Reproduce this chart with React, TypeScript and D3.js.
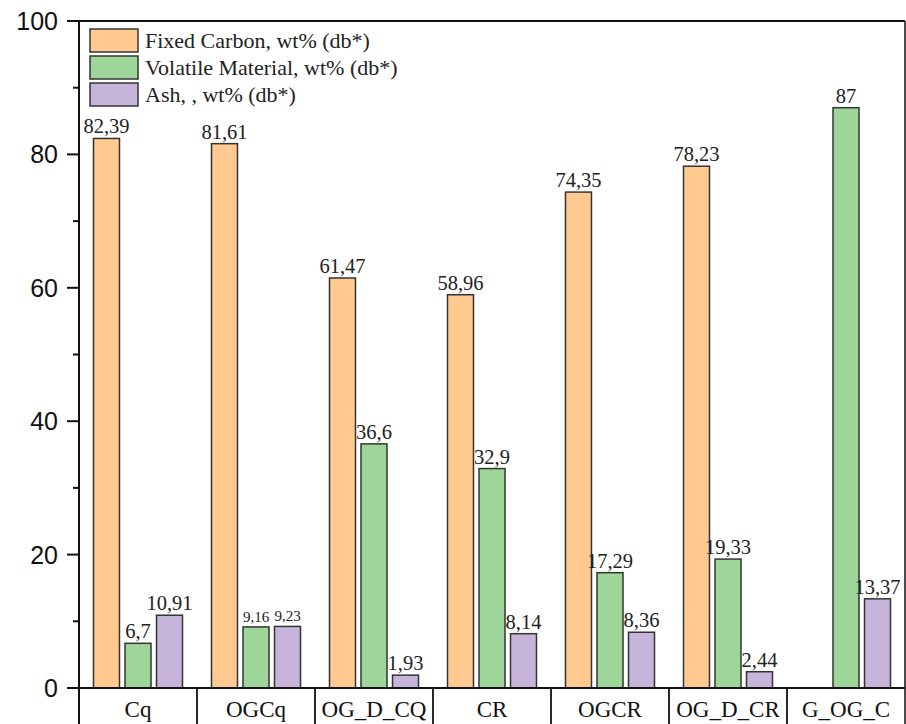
import React from "react";
import * as d3 from "d3";

const categories = ["Cq", "OGCq", "OG_D_CQ", "CR", "OGCR", "OG_D_CR", "G_OG_C"];
const seriesNames = [
  "Fixed Carbon, wt% (db*)",
  "Volatile Material, wt% (db*)",
  "Ash, , wt% (db*)",
];
const fixedCarbon: (number | null)[] = [82.39, 81.61, 61.47, 58.96, 74.35, 78.23, null];
const volatileMatter: (number | null)[] = [6.7, 9.16, 36.6, 32.9, 17.29, 19.33, 87];
const ash: (number | null)[] = [10.91, 9.23, 1.93, 8.14, 8.36, 2.44, 13.37];
const yTicks = [0, 20, 40, 60, 80, 100];
const seriesColors = ["#FFC990", "#9ED69A", "#C6B4DB"];

const W = 906;
const H = 724;
const margin = { left: 79, right: 905, top: 21, bottom: 688 };

const fmt = (v: number) => String(v).replace(".", ",");

export default function App() {
  const x0 = d3
    .scaleBand<string>()
    .domain(categories)
    .range([margin.left, margin.right])
    .padding(0);
  const x1 = d3
    .scaleBand<number>()
    .domain([0, 1, 2])
    .range([0, x0.bandwidth()])
    .paddingInner(0.175)
    .paddingOuter(0.46);
  const y = d3.scaleLinear().domain([0, 100]).range([margin.bottom, margin.top]);

  const seriesData = [fixedCarbon, volatileMatter, ash];
  const minorTicks = d3.range(10, 100, 20);

  return (
    <svg
      width={W}
      height={H}
      style={{ position: "absolute", left: 0, top: 0, background: "#fff" }}
    >
      {/* bars */}
      {categories.map((c, ci) => (
        <g key={c} transform={`translate(${x0(c)},0)`}>
          {seriesData.map((s, si) => {
            const v = s[ci];
            if (v == null) return null;
            const bx = x1(si)!;
            const bw = x1.bandwidth();
            const small = ci === 1 && si > 0;
            return (
              <g key={si}>
                <rect
                  x={bx}
                  y={y(v)}
                  width={bw}
                  height={y(0) - y(v)}
                  fill={seriesColors[si]}
                  stroke="#333"
                  strokeWidth={1.5}
                />
                <text
                  x={bx + bw / 2}
                  y={y(v) - 5}
                  textAnchor="middle"
                  fontFamily="'Liberation Serif', 'Times New Roman', serif"
                  fontSize={small ? 15 : 20.5}
                  fill="#222"
                >
                  {fmt(v)}
                </text>
              </g>
            );
          })}
        </g>
      ))}

      {/* frame */}
      <line x1={margin.left} x2={margin.right} y1={margin.top} y2={margin.top} stroke="#111" strokeWidth={2.2} />
      <line x1={margin.right} x2={margin.right} y1={margin.top} y2={H} stroke="#111" strokeWidth={1.5} />
      <line x1={margin.left} x2={margin.left} y1={margin.top} y2={H} stroke="#111" strokeWidth={2} />
      <line x1={margin.left - 12} x2={margin.right} y1={margin.bottom} y2={margin.bottom} stroke="#111" strokeWidth={2} />

      {/* y axis ticks */}
      {yTicks.map((t) => (
        <g key={t}>
          <line x1={margin.left - 12} x2={margin.left} y1={y(t)} y2={y(t)} stroke="#111" strokeWidth={2} />
          <text
            x={margin.left - 21}
            y={y(t) + 9}
            textAnchor="end"
            fontFamily="'Liberation Sans', Arial, sans-serif"
            fontSize={25}
            fill="#111"
          >
            {t}
          </text>
        </g>
      ))}
      {minorTicks.map((t) => (
        <line key={t} x1={margin.left - 6} x2={margin.left} y1={y(t)} y2={y(t)} stroke="#111" strokeWidth={2} />
      ))}

      {/* category table */}
      {categories.map((c, ci) => (
        <g key={c}>
          {ci > 0 && (
            <line x1={x0(c)} x2={x0(c)} y1={margin.bottom} y2={H} stroke="#111" strokeWidth={1.8} />
          )}
          <text
            x={x0(c)! + x0.bandwidth() / 2}
            y={717}
            textAnchor="middle"
            fontFamily="'Liberation Serif', 'Times New Roman', serif"
            fontSize={23}
            fill="#111"
          >
            {c}
          </text>
        </g>
      ))}

      {/* legend */}
      {seriesNames.map((n, i) => (
        <g key={n} transform={`translate(90,${29 + i * 27})`}>
          <rect x={0} y={0} width={48} height={23} fill={seriesColors[i]} stroke="#333" strokeWidth={1.5} />
          <text
            x={55}
            y={19}
            fontFamily="'Liberation Serif', 'Times New Roman', serif"
            fontSize={22}
            fill="#222"
          >
            {n}
          </text>
        </g>
      ))}
    </svg>
  );
}
